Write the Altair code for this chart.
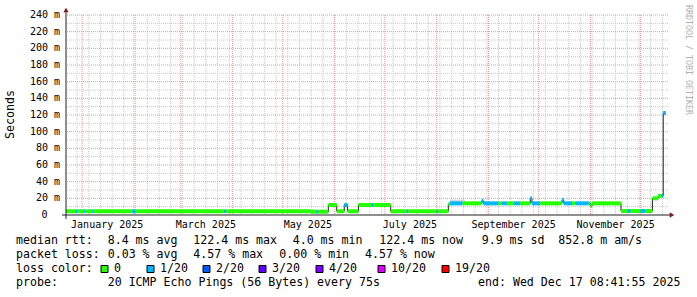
import altair as alt
import pandas as pd

# ---------------- data ----------------
SEG_START = [
    "2024-12-22T08:41:55Z", "2024-12-28T00:00:00Z", "2024-12-29T00:00:00Z",
    "2025-01-02T00:00:00Z", "2025-01-03T00:00:00Z", "2025-01-07T00:00:00Z",
    "2025-01-07T12:00:00Z", "2025-01-31T00:00:00Z", "2025-02-02T00:00:00Z",
    "2025-03-27T00:00:00Z", "2025-03-28T06:00:00Z", "2025-05-18T00:00:00Z",
    "2025-05-21T00:00:00Z", "2025-05-22T00:00:00Z", "2025-05-28T06:00:00Z",
    "2025-06-02T06:00:00Z", "2025-06-06T18:00:00Z", "2025-06-08T18:00:00Z",
    "2025-06-15T06:00:00Z", "2025-06-23T00:00:00Z", "2025-06-24T00:00:00Z",
    "2025-07-04T12:00:00Z", "2025-07-14T00:00:00Z", "2025-07-15T00:00:00Z",
    "2025-08-01T00:00:00Z", "2025-08-02T00:00:00Z", "2025-08-08T00:00:00Z",
    "2025-08-09T00:00:00Z", "2025-08-16T12:00:00Z", "2025-08-28T00:00:00Z",
    "2025-08-29T00:00:00Z", "2025-09-07T00:00:00Z", "2025-09-09T00:00:00Z",
    "2025-09-12T00:00:00Z", "2025-09-16T00:00:00Z", "2025-09-20T00:00:00Z",
    "2025-09-26T00:00:00Z", "2025-09-27T00:00:00Z", "2025-10-02T00:00:00Z",
    "2025-10-15T00:00:00Z", "2025-10-16T00:00:00Z", "2025-10-21T00:00:00Z",
    "2025-10-23T00:00:00Z", "2025-10-31T00:00:00Z", "2025-11-01T00:00:00Z",
    "2025-11-02T00:00:00Z", "2025-11-19T06:00:00Z", "2025-11-23T00:00:00Z",
    "2025-11-25T00:00:00Z", "2025-12-01T00:00:00Z", "2025-12-04T00:00:00Z",
    "2025-12-08T01:00:00Z", "2025-12-11T12:00:00Z", "2025-12-13T12:00:00Z",
    "2025-12-14T12:00:00Z",
]
SEG_MEDIAN = [
    4.5, 4.5, 4.5,
    4.5, 4.5, 4.5,
    4.5, 4.5, 4.5,
    4.5, 4.5, 4.0,
    4.0, 4.0, 12.0,
    4.5, 12.0, 4.5,
    12.0, 12.0, 12.0,
    4.5, 4.5, 4.5,
    4.5, 4.5, 13.0,
    14.0, 14.0, 17.0,
    14.0, 14.0, 14.0,
    14.0, 14.0, 14.0,
    20.0, 14.0, 14.0,
    18.0, 14.0, 14.0,
    14.0, 14.0, 11.0,
    14.0, 4.8, 4.8,
    4.8, 4.8, 4.8,
    20.0, 23.0, 23.0,
    122.4,
]
SEG_LOSS = [
    0, 1, 0,
    1, 0, 1,
    0, 1, 0,
    1, 0, 0,
    1, 0, 0,
    0, 1, 0,
    0, 1, 0,
    0, 1, 0,
    1, 0, 0,
    1, 0, 1,
    1, 0, 1,
    0, 1, 0,
    1, 1, 0,
    1, 1, 0,
    1, 0, 0,
    0, 0, 1,
    0, 1, 0,
    0, 0, 1,
    1,
]
LAST_END = "2025-12-16T00:00:00Z"

SMOKE_START = ["2025-08-09T00:00:00Z"]
SMOKE_END = ["2025-08-18T00:00:00Z"]
SMOKE_LO = [14.0]
SMOKE_HI = [18.5]

LOSS_LEVELS = [0, 1, 2, 3, 4, 10, 19]
LOSS_COLORS = ["#26ff00", "#00b8ff", "#0059ff", "#5e00ff", "#7e00ff", "#dd00ff", "#ff0000"]
LOSS_LABELS = ["0", "1/20", "2/20", "3/20", "4/20", "10/20", "19/20"]

Y_MAJOR = [20, 40, 60, 80, 100, 120, 140, 160, 180, 200, 220, 240]
Y_MINOR = [10, 30, 50, 70, 90, 110, 130, 150, 170, 190, 210, 230]
Y_TICKS = [0, 20, 40, 60, 80, 100, 120, 140, 160, 180, 200, 220, 240]
Y_LABELS = ["0", "20 m", "40 m", "60 m", "80 m", "100 m", "120 m", "140 m",
            "160 m", "180 m", "200 m", "220 m", "240 m"]

MONTH_STARTS = ["2025-01-01T00:00:00Z", "2025-02-01T00:00:00Z", "2025-03-01T00:00:00Z",
                "2025-04-01T00:00:00Z", "2025-05-01T00:00:00Z", "2025-06-01T00:00:00Z",
                "2025-07-01T00:00:00Z", "2025-08-01T00:00:00Z", "2025-09-01T00:00:00Z",
                "2025-10-01T00:00:00Z", "2025-11-01T00:00:00Z", "2025-12-01T00:00:00Z"]
MONTH_LABELS = ["January 2025", "March 2025", "May 2025", "July 2025",
                "September 2025", "November 2025"]
MONTH_LABEL_AT = ["2025-01-16T00:00:00Z", "2025-03-16T00:00:00Z", "2025-05-16T00:00:00Z",
                  "2025-07-16T00:00:00Z", "2025-09-16T00:00:00Z", "2025-11-16T00:00:00Z"]

LEGEND_LINES = [
    [("median rtt:", 16), ("8.4 ms avg", 107.7), ("122.4 ms max", 193.3), ("4.0 ms min", 292.7),
     ("122.4 ms now", 379.3), ("9.9 ms sd", 481.7), ("852.8 m am/s", 558.3)],
    [("packet loss:", 16), ("0.03 % avg", 107.7), ("4.57 % max", 193.3), ("0.00 % min", 279.3),
     ("4.57 % now", 365)],
    [("loss color:", 16)],
    [("probe:", 16), ("20 ICMP Echo Pings (56 Bytes) every 75s", 107.7),
     ("end: Wed Dec 17 08:41:55 2025", 478)],
]
LEGEND_ROW_Y = [241, 255, 269, 283.3]
SWATCH_X = [101, 147, 203, 259, 316, 378, 442]

# ---------------- layout ----------------
OX, OY = 66, 15          # plot origin in the page
W, H = 602, 200
MONO = "DejaVu Sans Mono"

xscale = alt.Scale(domain=[
    alt.DateTime(year=2024, month=12, date=22, hours=8, minutes=41, seconds=55, utc=True),
    alt.DateTime(year=2025, month=12, date=17, hours=8, minutes=41, seconds=55, utc=True)])
yscale = alt.Scale(domain=[0, 240], nice=False, zero=False)

seg = pd.DataFrame({"t": SEG_START, "t2": SEG_START[1:] + [LAST_END],
                    "ms": SEG_MEDIAN, "loss": SEG_LOSS})
line_df = pd.DataFrame({"t": SEG_START + [LAST_END], "ms": SEG_MEDIAN + [SEG_MEDIAN[-1]]})
smoke = pd.DataFrame({"t": SMOKE_START, "t2": SMOKE_END, "lo": SMOKE_LO, "hi": SMOKE_HI})

weeks = [d.strftime("%Y-%m-%dT00:00:00Z") for d in pd.date_range("2024-12-29", "2025-12-14", freq="7D")]

X = lambda f: alt.X(f, type="temporal", scale=xscale, axis=None)
Y = lambda f: alt.Y(f, type="quantitative", scale=yscale, axis=None)

minor_v = alt.Chart(pd.DataFrame({"t": weeks})).mark_rule(
    color="#c8c8c8", strokeDash=[1, 1], strokeWidth=1).encode(x=X("t"))
minor_h = alt.Chart(pd.DataFrame({"v": Y_MINOR})).mark_rule(
    color="#c8c8c8", strokeDash=[1, 1], strokeWidth=1).encode(y=Y("v"))
major_v = alt.Chart(pd.DataFrame({"t": MONTH_STARTS})).mark_rule(
    color="#eb9696", strokeDash=[1, 1], strokeWidth=1).encode(x=X("t"))
major_h = alt.Chart(pd.DataFrame({"v": Y_MAJOR})).mark_rule(
    color="#eb9696", strokeDash=[1, 1], strokeWidth=1).encode(y=Y("v"))

smoke_l = alt.Chart(smoke).mark_rect(color="#d6d6d6").encode(
    x=X("t"), x2="t2", y=Y("lo"), y2="hi")

median_line = alt.Chart(line_df).mark_line(
    interpolate="step-after", color="#202020", strokeWidth=1).encode(x=X("t"), y=Y("ms"))

band = alt.Chart(seg).mark_rule(strokeWidth=4, strokeCap="butt").encode(
    x=X("t"), x2="t2", y=Y("ms"),
    color=alt.Color("loss:O", scale=alt.Scale(domain=LOSS_LEVELS, range=LOSS_COLORS), legend=None))

y_axis = alt.Chart(pd.DataFrame({"a": [0]})).mark_rule(color="#202020", strokeWidth=1).encode(
    x=alt.value(0), y=alt.value(-5), y2=alt.value(H + 4))
x_axis = alt.Chart(pd.DataFrame({"a": [0]})).mark_rule(color="#202020", strokeWidth=1).encode(
    y=alt.value(H), x=alt.value(-4), x2=alt.value(W + 3))
arrow_up = alt.Chart(pd.DataFrame({"a": [0]})).mark_point(
    shape="triangle-up", filled=True, color="#7f1f1f", size=28, opacity=1).encode(
    x=alt.value(0), y=alt.value(-5))
arrow_right = alt.Chart(pd.DataFrame({"a": [0]})).mark_point(
    shape="triangle-right", filled=True, color="#7f1f1f", size=28, opacity=1).encode(
    x=alt.value(W + 4), y=alt.value(H))

ylab_df = pd.DataFrame({"v": Y_TICKS, "lab": Y_LABELS,
                        "px": [-18.5 if l == "0" else -6 for l in Y_LABELS]})
ylabels = alt.Chart(ylab_df).mark_text(
    font=MONO, fontSize=10, align="right", baseline="middle", color="#000000").encode(
    x=alt.X("px:Q", scale=None, axis=None), y=Y("v"), text="lab:N")

xlabels = alt.Chart(pd.DataFrame({"t": MONTH_LABEL_AT, "lab": MONTH_LABELS})).mark_text(
    font=MONO, fontSize=10, align="center", baseline="middle", color="#000000").encode(
    x=X("t"), y=alt.value(210), text="lab:N")

unit = alt.Chart(pd.DataFrame({"a": [0]})).mark_text(
    font=MONO, fontSize=11.6, angle=270, align="center", baseline="middle",
    text="Seconds", color="#000000").encode(x=alt.value(10.5 - OX), y=alt.value(114.5 - OY))

water = alt.Chart(pd.DataFrame({"a": [0]})).mark_text(
    font=MONO, fontSize=8.3, angle=90, align="center", baseline="middle",
    text="RRDTOOL / TOBI OETIKER", color="#b0b0b0").encode(
    x=alt.value(687.5 - OX), y=alt.value(60 - OY))

rows = []
for i, line in enumerate(LEGEND_LINES):
    for txt, px in line:
        rows.append({"txt": txt, "px": px - OX, "py": LEGEND_ROW_Y[i] - OY})
for lab, sx in zip(LOSS_LABELS, SWATCH_X):
    rows.append({"txt": lab, "px": sx + 13 - OX, "py": LEGEND_ROW_Y[2] - OY})
legend_text = alt.Chart(pd.DataFrame(rows)).mark_text(
    font=MONO, fontSize=11.6, align="left", baseline="middle", color="#000000").encode(
    x=alt.X("px:Q", scale=None, axis=None), y=alt.Y("py:Q", scale=None, axis=None), text="txt:N")

sw_df = pd.DataFrame({"px": [s + 3.5 - OX for s in SWATCH_X],
                      "py": [LEGEND_ROW_Y[2] - OY] * len(SWATCH_X),
                      "c": LOSS_COLORS})
swatches = alt.Chart(sw_df).mark_square(size=49, stroke="#000000", strokeWidth=1, opacity=1).encode(
    x=alt.X("px:Q", scale=None, axis=None), y=alt.Y("py:Q", scale=None, axis=None),
    fill=alt.Fill("c:N", scale=None))

chart = alt.layer(
    minor_v, minor_h, major_v, major_h, smoke_l, median_line, band,
    y_axis, x_axis, arrow_up, arrow_right, ylabels, xlabels, unit, water,
    legend_text, swatches,
).properties(
    width=W, height=H,
    padding={"left": OX, "top": OY, "right": 697 - OX - W, "bottom": 297 - OY - H},
    autosize=alt.AutoSizeParams(type="none"),
    background="#ffffff",
).configure_view(stroke=None)

chart.save("out.html", embed_options={"renderer": "svg", "actions": False})
